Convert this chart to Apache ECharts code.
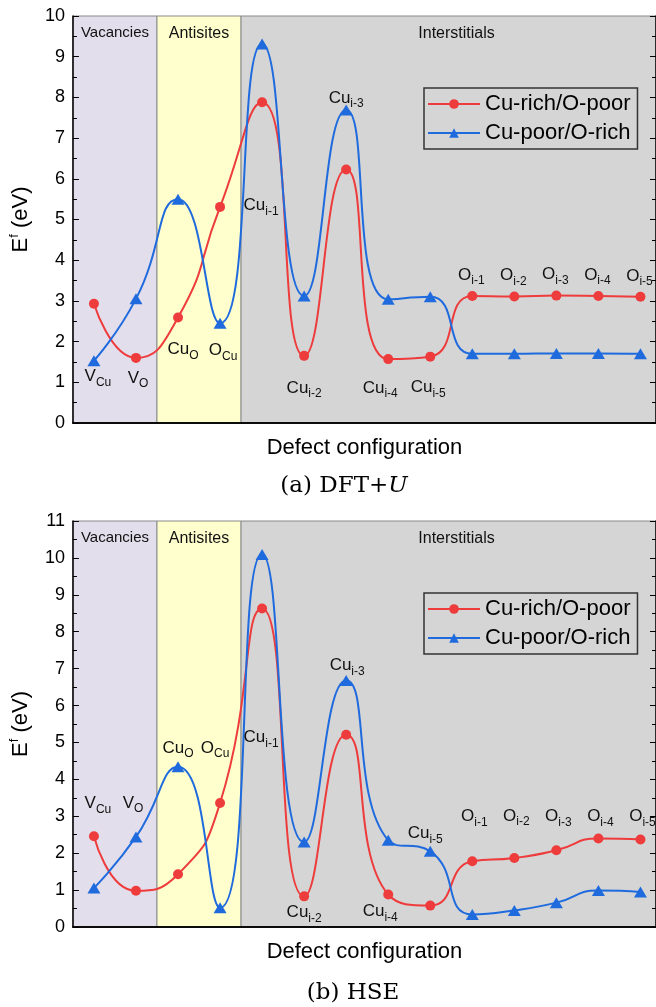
<!DOCTYPE html>
<html><head><meta charset="utf-8">
<script src="https://cdn.jsdelivr.net/npm/echarts@6/dist/echarts.min.js"></script>
<style>html,body{margin:0;padding:0;background:#fff}#c{width:656px;height:1007px}</style>
</head><body><div id="c"></div>
<script>
// ---- data ----
const categories = ['V_Cu','V_O','Cu_O','O_Cu','Cu_i-1','Cu_i-2','Cu_i-3','Cu_i-4','Cu_i-5','O_i-1','O_i-2','O_i-3','O_i-4','O_i-5'];
const labelMain = ['V','V','Cu','O','Cu','Cu','Cu','Cu','Cu','O','O','O','O','O'];
const labelSub  = ['Cu','O','O','Cu','i-1','i-2','i-3','i-4','i-5','i-1','i-2','i-3','i-4','i-5'];
const regionNames = ['Vacancies','Antisites','Interstitials'];
const regionSizes = [2, 2, 10];
const seriesNames = ['Cu-rich/O-poor','Cu-poor/O-rich'];
const dftRich = [2.93,1.60,2.59,5.31,7.88,1.65,6.23,1.57,1.63,3.12,3.11,3.13,3.12,3.10];
const dftPoor = [1.53,3.05,5.50,2.45,9.31,3.12,7.69,3.04,3.10,1.70,1.70,1.71,1.71,1.70];
const hseRich = [2.46,0.98,1.43,3.36,8.63,0.83,5.21,0.88,0.58,1.78,1.87,2.08,2.40,2.37];
const hsePoor = [1.06,2.44,4.34,0.52,10.09,2.30,6.68,2.35,2.05,0.34,0.45,0.66,0.99,0.95];
const yMaxA = 10, yMaxB = 11;
const xAxisName = 'Defect configuration';
const yAxisName = 'E{sup|f} (eV)';
const captionA = '(a) DFT+{it|U}';
const captionB = '(b) HSE';

// ---- styles / layout ----
const RED = '#EE3B3B', BLUE = '#1F6BDE';
const regionColors = ['#E3DEEB', '#FFFFCE', '#D5D5D5'];
const FONT = 'Liberation Sans';
// which series each point label is attached to (r = red, p = blue) and pixel offsets
const anchorsA = ['p','r','r','p','r','r','p','r','r','r','r','r','r','r'];
const offsetsA = [[4,16],[2,20],[5,32],[3,27],[-1,103],[0,32],[0,-12],[-8,29],[-2,31],[-1,-21],[-1,-21],[-1,-21],[-1,-21],[-1,-21]];
const anchorsB = ['r','p','p','r','r','r','p','r','p','r','r','r','r','r'];
const offsetsB = [[4,-33],[-3,-34],[0,-19],[-5,-55],[-1,129],[0,16],[1,-15],[-8,17],[-5,-18],[2,-45],[2,-42],[2,-34],[2,-22],[2,-23]];
const X_MIN = 0.5, X_MAX = 14.37;

const grids = [
  {left:70, top:16, width:587, height:407},
  {left:70, top:521, width:587, height:406}
];

function regionAreas() {
  const out = [];
  let start = X_MIN;
  regionSizes.forEach((n, k) => {
    const end = (k === regionSizes.length - 1) ? X_MAX : start + n;
    out.push([{
      xAxis: start, name: regionNames[k],
      itemStyle: {color: regionColors[k], borderColor: '#8a8a8a', borderWidth: 1},
      label: {offset: k === 2 ? [8, 0] : [0, 0], fontSize: k === 0 ? 15 : 16}
    }, {xAxis: end}]);
    start = end;
  });
  return out;
}

const richLabel = {
  m: {fontSize: 17, fontFamily: FONT, color: '#111', lineHeight: 24, verticalAlign: 'middle'},
  s: {fontSize: 12, fontFamily: FONT, color: '#111', lineHeight: 12, verticalAlign: 'bottom'}
};

function makeData(vals, key, anchors, offsets) {
  return vals.map((v, i) => {
    const item = {value: [i + 1, v]};
    if (anchors[i] === key) {
      item.label = {show: true, position: 'inside', offset: offsets[i],
        formatter: '{m|' + labelMain[i] + '}{s|' + labelSub[i] + '}'};
    }
    return item;
  });
}

function panelSeries(gi, rich, poor, anchors, offsets) {
  return [
    {
      name: seriesNames[0], type: 'line', xAxisIndex: 2*gi, yAxisIndex: 2*gi,
      data: makeData(rich, 'r', anchors, offsets), smooth: 0.55,
      symbol: 'circle', symbolSize: 10, color: RED,
      lineStyle: {width: 2, color: RED}, itemStyle: {color: RED},
      label: {show: false, rich: richLabel},
      emphasis: {disabled: true}, z: 3,
      markArea: {silent: true, z: 1, data: regionAreas(),
        label: {show: true, position: 'insideTop', distance: 10, color: '#111', fontFamily: FONT, fontSize: 16}}
    },
    {
      name: seriesNames[1], type: 'line', xAxisIndex: 2*gi, yAxisIndex: 2*gi,
      data: makeData(poor, 'p', anchors, offsets), smooth: 0.55,
      symbol: 'triangle', symbolSize: [13, 11], color: BLUE,
      lineStyle: {width: 2, color: BLUE}, itemStyle: {color: BLUE},
      label: {show: false, rich: richLabel},
      emphasis: {disabled: true}, z: 3
    }
  ];
}

function axesFor(gi, ymax) {
  const x = [
    {type: 'value', gridIndex: gi, min: X_MIN, max: X_MAX, position: 'bottom', z: 10,
     axisLine: {show: true, lineStyle: {color: '#000', width: 1.5}}, axisTick: {show: false},
     axisLabel: {show: false}, splitLine: {show: false},
     name: xAxisName, nameLocation: 'middle', nameGap: 12,
     nameTextStyle: {fontSize: 22, fontFamily: FONT, color: '#000', lineHeight: 26}},
    {type: 'value', gridIndex: gi, min: X_MIN, max: X_MAX, position: 'top', z: 10,
     axisLine: {show: true, lineStyle: {color: '#000', width: 1.5}}, axisTick: {show: false},
     axisLabel: {show: false}, splitLine: {show: false}}
  ];
  const tickCommon = {
    axisTick: {show: true, inside: true, length: 6, lineStyle: {color: '#000', width: 1}},
    minorTick: {show: true, splitNumber: 2, length: 4, lineStyle: {color: '#000', width: 1}},
    splitLine: {show: false}, minorSplitLine: {show: false}
  };
  const y = [
    Object.assign({type: 'value', gridIndex: gi, min: 0, max: ymax, interval: 1, position: 'left', z: 10,
     axisLine: {show: true, lineStyle: {color: '#000', width: 1.5}},
     axisLabel: {show: true, fontSize: 18, fontFamily: FONT, color: '#000', margin: 8},
     name: yAxisName, nameLocation: 'middle', nameGap: 29, nameRotate: 90,
     nameTextStyle: {fontSize: 22, fontFamily: FONT, color: '#000', lineHeight: 26,
       rich: {sup: {fontSize: 13, fontFamily: FONT, color: '#000', lineHeight: 26, verticalAlign: 'top', padding: [0,0,8,0]}}}
    }, tickCommon),
    Object.assign({type: 'value', gridIndex: gi, min: 0, max: ymax, interval: 1, position: 'right', z: 10,
     axisLine: {show: true, lineStyle: {color: '#000', width: 1.5}},
     axisLabel: {show: false}}, tickCommon)
  ];
  return {x, y};
}

const axA = axesFor(0, yMaxA), axB = axesFor(1, yMaxB);

function legendAt(top) {
  return {
    data: seriesNames, orient: 'vertical', left: 424, top: top,
    itemWidth: 52, itemHeight: 12, itemGap: 3,
    padding: [3, 7, 3, 3], borderColor: '#333', borderWidth: 1.5,
    textStyle: {fontSize: 22, fontFamily: FONT, color: '#000', lineHeight: 26},
    selectedMode: false
  };
}

const captionStyle = {fontSize: 23, fontFamily: 'DejaVu Serif', fill: '#000',
  textAlign: 'center', textVerticalAlign: 'middle',
  rich: {it: {fontSize: 23, fontFamily: 'DejaVu Serif', fontStyle: 'italic'}}};

const option = {
  animation: false,
  backgroundColor: '#fff',
  grid: grids,
  xAxis: axA.x.concat(axB.x),
  yAxis: axA.y.concat(axB.y),
  legend: [legendAt(88), legendAt(593)],
  series: panelSeries(0, dftRich, dftPoor, anchorsA, offsetsA)
    .concat(panelSeries(1, hseRich, hsePoor, anchorsB, offsetsB)),
  graphic: [
    {type: 'text', x: 344, y: 486, style: Object.assign({text: captionA}, captionStyle)},
    {type: 'text', x: 353, y: 993, style: Object.assign({text: captionB}, captionStyle)}
  ]
};

const chart = echarts.init(document.getElementById('c'), null, {renderer: 'canvas'});
chart.setOption(option);
</script></body></html>
